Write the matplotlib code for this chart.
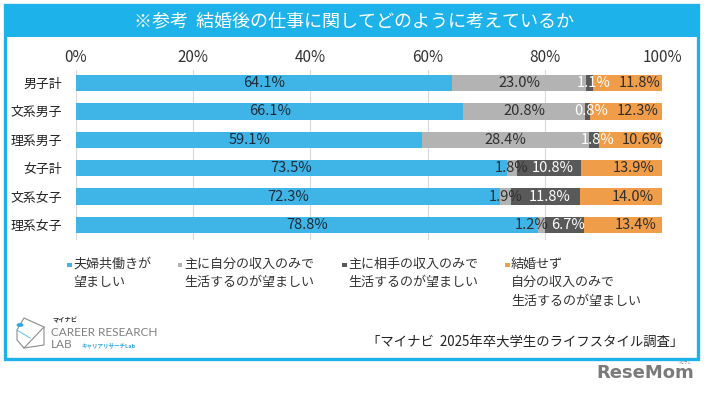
import matplotlib
matplotlib.use("Agg")
import matplotlib.pyplot as plt
from matplotlib.patches import Rectangle, Circle, Polygon
from matplotlib.lines import Line2D

plt.rcParams['font.family'] = ['Noto Sans CJK JP', 'DejaVu Sans']

# ---------------- data ----------------
categories = ['男子計', '文系男子', '理系男子', '女子計', '文系女子', '理系女子']
both_work = [64.1, 66.1, 59.1, 73.5, 72.3, 78.8]
own_income = [23.0, 20.8, 28.4, 1.8, 1.9, 1.2]
partner_income = [1.1, 0.8, 1.8, 10.8, 11.8, 6.7]
no_marriage = [11.8, 12.3, 10.6, 13.9, 14.0, 13.4]
series_names = [
    ['夫婦共働きが', '望ましい'],
    ['主に自分の収入のみで', '生活するのが望ましい'],
    ['主に相手の収入のみで', '生活するのが望ましい'],
    ['結婚せず', '自分の収入のみで', '生活するのが望ましい'],
]
x_ticks = [0, 20, 40, 60, 80, 100]
x_tick_labels = ['0%', '20%', '40%', '60%', '80%', '100%']
title = '※参考  結婚後の仕事に関してどのように考えているか'
source = '「マイナビ  2025年卒大学生のライフスタイル調査」'

# ---------------- style ----------------
W, H = 707, 394
colors = ['#3FB4E6', '#B3B3B3', '#595959', '#F09D4A']
label_colors = ['#1E2B3A', '#2F2F2F', 'white', '#2F2F2F']
label_dx = [0, 0, 4, 12]  # pixel nudges of value labels
frame_col = '#1DB2EA'

fig = plt.figure(figsize=(W / 100, H / 100), dpi=100)
fig.patch.set_facecolor('white')


def fx(px):
    return px / W


def fy(py):
    return 1 - py / H


# frame and title bar
fig.patches.append(Rectangle((fx(5), fy(37)), fx(693), 32 / H, transform=fig.transFigure,
                             facecolor=frame_col, edgecolor='none', zorder=0))
fig.patches.append(Rectangle((fx(5), fy(359)), fx(693), 354 / H, transform=fig.transFigure,
                             facecolor='none', edgecolor=frame_col, linewidth=2.4, zorder=1))
fig.text(0.5, fy(21), title, color='white', fontsize=13, ha='center', va='center')

# axes
ax = fig.add_axes([fx(76), fy(240), fx(586), 170 / H])
series = [both_work, own_income, partner_income, no_marriage]
ypos = list(range(len(categories)))
left = [0.0] * len(categories)
for s, vals in enumerate(series):
    bars = ax.barh(ypos, vals, left=left, height=0.58, color=colors[s], edgecolor='none', zorder=2)
    for i, (b, v) in enumerate(zip(bars, vals)):
        cx = b.get_x() + b.get_width() / 2
        dx = label_dx[s]
        if s == 1 and v < 1.5:
            dx -= 10
        ax.annotate(f'{v:.1f}%', (cx, b.get_y() + b.get_height() / 2),
                    xytext=(dx * 0.72, 0), textcoords='offset points',
                    ha='center', va='center', fontsize=10.5, color=label_colors[s], zorder=5)
    left = [l + v for l, v in zip(left, vals)]

ax.set_xlim(0, 100)
ax.set_ylim(5 + 15 / 28.4, -13 / 28.4)
ax.set_xticks(x_ticks)
ax.set_xticklabels(x_tick_labels)
ax.xaxis.tick_top()
ax.tick_params(axis='x', length=0, pad=3, labelsize=11, colors='#333333')
ax.set_yticks(ypos)
ax.set_yticklabels(categories)
ax.tick_params(axis='y', length=0, pad=10, labelsize=9.3, colors='#222222')
ax.grid(axis='x', color='#D9D9D9', linewidth=0.8, zorder=0)
ax.set_axisbelow(True)
for sp in ax.spines.values():
    sp.set_visible(False)
ax.set_facecolor('none')

# legend (manual)
leg_sq_x = [67, 178, 342, 505]
for k, lines in enumerate(series_names):
    fig.patches.append(Rectangle((fx(leg_sq_x[k]), fy(267)), 4.5 / W, 4.5 / H,
                                 transform=fig.transFigure, facecolor=colors[k], edgecolor='none'))
    for j, line in enumerate(lines):
        fig.text(fx(leg_sq_x[k] + 6), fy(264 + 18.5 * j), line, fontsize=9.4,
                 color='#333333', ha='left', va='center')

# source
fig.text(fx(683), fy(343), source, fontsize=9.6, color='#222222', ha='right', va='center')

# logo (decorative)
gray = '#8C8C8C'
icon = [(24, 318), (44, 327), (44, 345), (24, 348), (17, 340), (17, 330)]
fig.patches.append(Polygon([(fx(x), fy(y)) for x, y in icon], closed=True, transform=fig.transFigure,
                           facecolor='none', edgecolor=gray, linewidth=0.8))
fig.lines.append(Line2D([fx(24), fx(44)], [fy(348), fy(327)], transform=fig.transFigure,
                        color=gray, linewidth=0.8))
fig.lines.append(Line2D([fx(17), fx(30)], [fy(330), fy(338)], transform=fig.transFigure,
                        color='#6CC7EE', linewidth=0.8))
fig.patches.append(Circle((fx(20), fy(325)), 3.5 / W, transform=fig.transFigure,
                          facecolor='#2CA9E1', edgecolor='none'))
fig.text(fx(52), fy(320), 'マイナビ', fontsize=4.5, fontweight='bold', color='#333333',
         ha='left', va='center')
fig.text(fx(51), fy(332), 'CAREER RESEARCH', fontsize=8.5, color='#808080',
         family=['Lato', 'DejaVu Sans'], ha='left', va='center')
fig.text(fx(51), fy(345), 'LAB', fontsize=8.5, color='#808080',
         family=['Lato', 'DejaVu Sans'], ha='left', va='center')
fig.text(fx(81), fy(345), 'キャリアリサーチLab', fontsize=4, fontweight='bold', color='#2CA9E1',
         ha='left', va='center')

# ReseMom watermark
fig.text(fx(694), fy(373), 'ReseMom', fontsize=13, fontweight='bold', color='#7A7A7A',
         family=['Liberation Sans Narrow', 'DejaVu Sans'], ha='right', va='center')
fig.text(fx(684), fy(362.5), 'リセマム', fontsize=2.5, color='#7A7A7A', ha='center', va='center')

fig.savefig('out.png', dpi=100, facecolor='white')
